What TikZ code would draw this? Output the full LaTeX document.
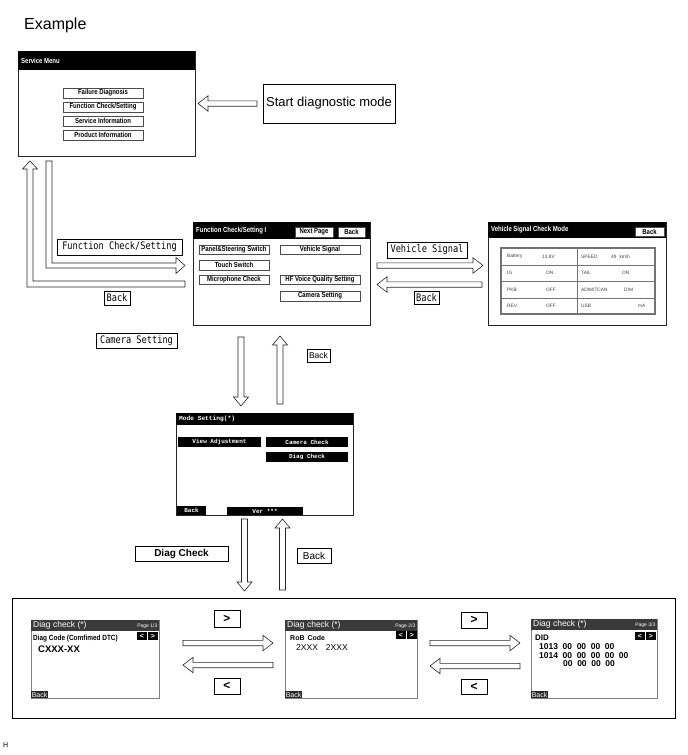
\documentclass[tikz,border=0pt]{standalone}
\usepackage{fontspec}
\setmainfont{Liberation Sans}
\newfontfamily\monofont{DejaVu Sans Mono}
\newfontfamily\monoscr{Liberation Mono}
\usepackage{graphicx}
\newcommand\nw[1]{\scalebox{0.82}[1]{#1}}
\newcommand\mt[1]{\scalebox{0.96}[1.15]{\monofont\fs{9}#1}}
\newcommand\fs[1]{\fontsize{#1}{#1}\selectfont}
\newcommand\gp{\hspace{4.6pt}}
\definecolor{dgray}{HTML}{3A3A3A}
\newcommand\hArrow[3]{%
 \pgfmathsetmacro\adir{sign(#2-#1)}%
 \pgfmathsetmacro\ahx{#2-\adir*10}%
 \draw[blockarrow] (#1,#3-2.7) -- (\ahx,#3-2.7) -- (\ahx,#3-7.7) -- (#2,#3) -- (\ahx,#3+7.7) -- (\ahx,#3+2.7) -- (#1,#3+2.7) -- cycle;}
\newcommand\vArrow[3]{%
 \pgfmathsetmacro\adir{sign(#3-#2)}%
 \pgfmathsetmacro\ahy{#3-\adir*9}%
 \draw[blockarrow] (#1-3,#2) -- (#1-3,\ahy) -- (#1-7.5,\ahy) -- (#1,#3) -- (#1+7.5,\ahy) -- (#1+3,\ahy) -- (#1+3,#2) -- cycle;}
\begin{document}
\begin{tikzpicture}[x=1pt,y=-1pt,
  scr/.style={draw=black!85, line width=0.9pt, inner sep=0pt},
  dscr/.style={draw=black!50, line width=1pt, inner sep=0pt},
  ttl/.style={text=white, font=\fs{7.3}\bfseries, inner sep=0pt},
  btn/.style={draw=black!70, line width=0.5pt, fill=white, inner sep=0pt, font=\fs{7.3}\bfseries},
  mbtn/.style={fill=black, text=white, inner sep=0pt, font=\monoscr\fs{6}\bfseries},
  lbl/.style={draw=black, line width=0.9pt, fill=white, inner sep=0pt},
  blockarrow/.style={draw=black!85, line width=0.6pt, fill=white},
  vt/.style={anchor=west, inner sep=0pt, text=black!75, font=\fs{4.8}},
  abtn/.style={fill=black, text=white, inner sep=0pt, minimum width=10pt, minimum height=8pt, font=\fs{7}\bfseries},
  dbk/.style={fill=black!85, text=white, inner sep=0.6pt, anchor=south west, font=\fs{7}}]
\useasboundingbox (0,0) rectangle (688,755);

\node[anchor=west, inner sep=0pt, font=\fs{16}] (example) at (24,25) {Example};
\node[anchor=west, inner sep=0pt, font=\fs{7}] (hmark) at (3,745) {H};

% Service Menu
\node[scr, anchor=north west, minimum width=177pt, minimum height=105pt] (sm) at (18,51) {};
\fill (18,51) rectangle (195,70);
\node[ttl, anchor=west] (smt) at (21,61) {\nw{Service Menu}};
\node[btn, minimum width=80pt, minimum height=9.5pt] (b1) at (103,93) {\nw{Failure Diagnosis}};
\node[btn, minimum width=80pt, minimum height=9.5pt] (b2) at (103,107) {\nw{Function Check/Setting}};
\node[btn, minimum width=80pt, minimum height=9.5pt] (b3) at (103,121) {\nw{Service Information}};
\node[btn, minimum width=80pt, minimum height=9.5pt] (b4) at (103,135) {\nw{Product Information}};

\node[draw, line width=0.8pt, minimum width=132pt, minimum height=39pt, inner sep=0pt, font=\fs{13}] (start) at (329,103.5) {Start diagnostic mode};
\hArrow{257}{198}{103.5}

% Function Check/Setting screen
\node[scr, anchor=north west, minimum width=177pt, minimum height=103pt] (fc) at (193,222) {};
\fill (193,222) rectangle (370,239);
\node[ttl, anchor=west] (fct) at (196,231) {\nw{Function Check/Setting I}};
\node[btn, minimum width=38pt, minimum height=10pt] (np) at (314,232) {\nw{Next Page}};
\node[btn, minimum width=27pt, minimum height=10pt] (fcback) at (351.5,232) {\nw{Back}};
\node[btn, minimum width=70pt, minimum height=9.5pt] (f1) at (234,249.5) {\nw{Panel\&Steering Switch}};
\node[btn, minimum width=80pt, minimum height=9.5pt] (f2) at (320,249.5) {\nw{Vehicle Signal}};
\node[btn, minimum width=70pt, minimum height=10pt] (f3) at (234,265) {\nw{Touch Switch}};
\node[btn, minimum width=70pt, minimum height=9.5pt] (f4) at (234,279.5) {\nw{Microphone Check}};
\node[btn, minimum width=80pt, minimum height=9.5pt] (f5) at (320,279.5) {\nw{HF Voice Quality Setting}};
\node[btn, minimum width=80pt, minimum height=10pt] (f6) at (320,296) {\nw{Camera Setting}};

% Vehicle Signal Check Mode screen
\node[scr, anchor=north west, minimum width=178pt, minimum height=103pt] (vs) at (488,222) {};
\fill (488,222) rectangle (666,238);
\node[ttl, anchor=west] (vst) at (491,230) {\nw{Vehicle Signal Check Mode}};
\node[btn, minimum width=29pt, minimum height=9pt] (vsback) at (649.5,231.5) {\nw{Back}};
\draw[black!55, line width=1.2pt] (501,248) rectangle (655,314);
\draw[black!55, line width=0.8pt] (577,248) -- (577,314) (501,265) -- (655,265) (501,281) -- (655,281) (501,298) -- (655,298);
\node[vt] at (507,256.5) {Battery};
\node[vt] at (542,256.5) {13.8V};
\node[vt] at (581,256.5) {SPEED};
\node[vt] at (611,256.5) {49\hspace{3pt}km/h};
\node[vt] at (507,273) {IG};
\node[vt] at (546,273) {ON};
\node[vt] at (581,273) {TAIL};
\node[vt] at (622,273) {ON};
\node[vt] at (507,289.5) {PKB};
\node[vt] at (546,289.5) {OFF};
\node[vt] at (581,289.5) {ADIM/TCAN};
\node[vt] at (624,289.5) {DIM};
\node[vt] at (507,306) {REV};
\node[vt] at (546,306) {OFF};
\node[vt] at (581,306) {USB};
\node[vt] at (638,306) {mA};

% Left loop arrows
\draw[blockarrow] (30,161) -- (22.5,169) -- (27,169) -- (27,287) -- (185,287) -- (185,281) -- (33,281) -- (33,169) -- (37.5,169) -- cycle;
\draw[blockarrow] (46,161) -- (46,268) -- (176,268) -- (176,273.5) -- (185,265.5) -- (176,257.5) -- (176,263) -- (52,263) -- (52,161) -- cycle;
\node[lbl, minimum width=125pt, minimum height=16pt] (lfc) at (119.5,247) {\mt{Function Check/Setting}};
\node[lbl, minimum width=26pt, minimum height=14pt] (lback1) at (117,298) {\mt{Back}};
\node[lbl, minimum width=81pt, minimum height=15pt] (lcam) at (136.5,340.5) {\mt{Camera Setting}};

% Vehicle signal arrows
\hArrow{377}{483}{265.5}
\hArrow{482}{377}{284.5}
\node[lbl, minimum width=80pt, minimum height=16pt] (lvs) at (427,250) {\mt{Vehicle Signal}};
\node[lbl, minimum width=25pt, minimum height=13pt] (lback2) at (426.5,297.5) {\mt{Back}};

% vertical arrows FC <-> Mode
\vArrow{241}{337}{406}
\vArrow{280}{404}{336}
\node[lbl, minimum width=23pt, minimum height=13pt, font=\fs{8.5}] (lback3) at (318.5,355.5) {Back};

% Mode Setting screen
\node[scr, anchor=north west, minimum width=177pt, minimum height=102pt] (ms) at (176,413) {};
\fill (176,413) rectangle (353,425);
\node[anchor=west, inner sep=0pt, text=white, font=\monoscr\fs{6.2}\bfseries] (mst) at (179,419) {Mode Setting(*)};
\node[mbtn, minimum width=83pt, minimum height=10pt] (m1) at (219.5,442) {View Adjustment};
\node[mbtn, minimum width=82pt, minimum height=10pt] (m2) at (307,442) {Camera Check};
\node[mbtn, minimum width=82pt, minimum height=10pt] (m3) at (307,457) {Diag Check};
\node[mbtn, minimum width=29pt, minimum height=9pt] (m4) at (191.5,510.5) {Back};
\node[mbtn, minimum width=76pt, minimum height=8pt] (m5) at (265,511) {Ver ***};

% vertical arrows Mode <-> Diag
\vArrow{244.5}{519}{591}
\vArrow{282.5}{590}{519}
\node[lbl, minimum width=93pt, minimum height=15pt, font=\fs{10}\bfseries] (ldiag) at (181.5,553.5) {Diag Check};
\node[lbl, minimum width=34pt, minimum height=15pt, font=\fs{10}] (lback4) at (314,555.5) {Back};

% Bottom panel
\node[draw, line width=1pt, anchor=north west, minimum width=663pt, minimum height=120pt, inner sep=0pt] (panel) at (12,598) {};

% Diag screen 1
\node[dscr, anchor=north west, minimum width=128pt, minimum height=78pt] (d1) at (31,620) {};
\fill[dgray] (31,620) rectangle (159,631);
\node[anchor=west, inner sep=0pt, text=white, font=\fs{8.5}] at (33,625.5) {Diag check (*)};
\node[anchor=east, inner sep=0pt, text=white, font=\fs{5}] at (157.5,626.5) {Page 1/3};
\node[abtn] at (142,636) {<};
\node[abtn] at (153,636) {>};
\node[anchor=west, inner sep=0pt, font=\fs{7.5}\bfseries] at (33,638.5) {\scalebox{0.86}[1]{Diag Code (Comfimed DTC)}};
\node[anchor=west, inner sep=0pt, font=\fs{9.5}\bfseries] at (38,649.5) {CXXX-XX};
\node[dbk] at (31,698) {Back};

% Diag screen 2
\node[dscr, anchor=north west, minimum width=132pt, minimum height=78pt] (d2) at (285,620) {};
\fill[dgray] (285,620) rectangle (417,631);
\node[anchor=west, inner sep=0pt, text=white, font=\fs{8.5}] at (287,625.5) {Diag check (*)};
\node[anchor=east, inner sep=0pt, text=white, font=\fs{5}] at (415.5,626.5) {Page 2/3};
\node[abtn] at (401,635) {<};
\node[abtn] at (412,635) {>};
\node[anchor=west, inner sep=0pt, font=\fs{7}\bfseries] at (290,637.5) {RoB\hspace{3pt}Code};
\node[anchor=west, inner sep=0pt, font=\fs{8.5}] at (296,647.5) {2XXX\hspace{8pt}2XXX};
\node[dbk] at (285,698) {Back};

% Diag screen 3
\node[dscr, anchor=north west, minimum width=126pt, minimum height=79pt] (d3) at (531,619) {};
\fill[dgray] (531,619) rectangle (657,630);
\node[anchor=west, inner sep=0pt, text=white, font=\fs{8.5}] at (533,624.5) {Diag check (*)};
\node[anchor=east, inner sep=0pt, text=white, font=\fs{5}] at (655.5,625.5) {Page 3/3};
\node[abtn] at (640,636) {<};
\node[abtn] at (651,636) {>};
\node[anchor=west, inner sep=0pt, font=\fs{8}\bfseries] at (535,637.5) {DID};
\node[anchor=west, inner sep=0pt, font=\fs{8.5}\bfseries] at (539,646.5) {1013\gp 00\gp 00\gp 00\gp 00};
\node[anchor=west, inner sep=0pt, font=\fs{8.5}\bfseries] at (539,655.5) {1014\gp 00\gp 00\gp 00\gp 00\gp 00};
\node[anchor=west, inner sep=0pt, font=\fs{8.5}\bfseries] at (563,664) {00\gp 00\gp 00\gp 00};
\node[dbk] at (531,698) {Back};

% page arrows
\hArrow{183}{273}{643}
\hArrow{273}{183}{665}
\node[lbl, minimum width=26pt, minimum height=17pt, font=\fs{12}\bfseries] (gt1) at (227,619) {>};
\node[lbl, minimum width=26pt, minimum height=16pt, font=\fs{12}\bfseries] (lt1) at (227,686) {<};
\hArrow{430}{520}{643}
\hArrow{520}{430}{666}
\node[lbl, minimum width=26pt, minimum height=16pt, font=\fs{12}\bfseries] (gt2) at (474,620) {>};
\node[lbl, minimum width=26pt, minimum height=15pt, font=\fs{12}\bfseries] (lt2) at (474,686.5) {<};
\end{tikzpicture}
\end{document}
